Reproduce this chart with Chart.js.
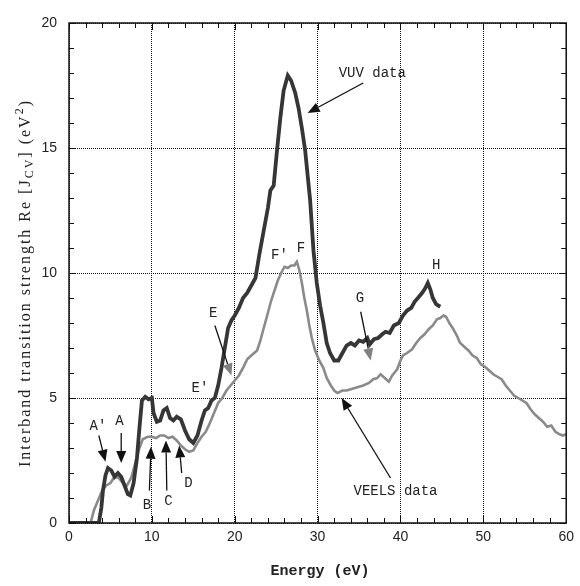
<!DOCTYPE html>
<html><head><meta charset="utf-8">
<script src="https://cdn.jsdelivr.net/npm/chart.js@4/dist/chart.umd.min.js"></script>
<style>html,body{margin:0;padding:0;background:#fff;}canvas{display:block;}</style>
</head><body>
<canvas id="c" width="580" height="586"></canvas>
<script>
// ---- data ----
const xTicks = [0, 10, 20, 30, 40, 50, 60];
const yTicks = [0, 5, 10, 15, 20];
const vuvEnergy = [0,3.6,3.9,4.1,4.4,4.7,5.1,5.5,5.9,6.3,6.7,7.1,7.4,7.8,8.2,8.5,8.8,9.2,9.6,10.0,10.2,10.6,11.0,11.4,11.8,12.2,12.6,13.0,13.5,14.0,14.5,15.0,15.5,16.0,16.4,16.8,17.2,17.6,18.0,18.4,18.8,19.2,19.6,20.0,20.5,21.0,21.5,22.0,22.5,23.0,23.5,24.0,24.3,24.7,25.1,25.5,25.9,26.4,26.8,27.3,27.7,28.1,28.5,28.8,29.1,29.5,29.9,30.3,30.7,31.1,31.5,32.0,32.5,33.0,33.5,34.0,34.5,35.0,35.5,36.0,36.3,36.8,37.3,37.8,38.2,38.7,39.2,39.8,40.3,40.8,41.3,41.7,42.1,42.6,43.0,43.3,43.6,43.9,44.3,44.8];
const vuvStrength = [0,0,0.6,1.3,1.9,2.2,2.1,1.85,2.0,1.85,1.5,1.15,1.1,1.6,2.6,3.8,4.9,5.05,4.95,5.0,4.4,4.05,4.1,4.5,4.6,4.2,4.1,4.25,4.15,3.7,3.35,3.2,3.5,4.1,4.5,4.6,4.9,5.0,5.5,6.2,7.0,7.8,8.1,8.3,8.6,9.0,9.2,9.5,9.8,10.8,11.7,12.6,13.3,13.5,14.9,16.2,17.3,17.9,17.7,17.2,16.6,15.8,14.9,13.9,12.9,10.9,9.6,8.7,8.0,7.2,6.8,6.5,6.5,6.8,7.1,7.2,7.1,7.3,7.25,7.4,7.15,7.35,7.4,7.55,7.65,7.6,7.9,8.0,8.3,8.5,8.6,8.85,9.0,9.2,9.4,9.6,9.35,9.0,8.75,8.65];
const veelsEnergy = [0,2.6,3.0,3.5,4.0,4.5,5.0,5.5,6.0,6.5,7.0,7.5,8.0,8.5,8.9,9.5,10.0,10.5,11.0,11.5,12.0,12.5,13.0,13.5,14.0,14.5,15.0,15.5,16.0,16.5,17.0,17.5,18.0,18.5,19.0,19.5,20.0,20.5,21.0,21.5,22.0,22.7,23.1,23.5,24.0,24.4,24.8,25.2,25.6,26.0,26.4,26.8,27.2,27.5,27.8,28.1,28.4,28.7,29.0,29.3,29.7,30.2,30.7,31.1,31.6,32.0,32.4,33.0,33.5,34.0,34.5,35.0,35.5,36.2,36.7,37.2,37.6,38.1,38.6,39.0,39.6,40.0,40.3,40.8,41.4,41.9,42.4,42.9,43.4,43.9,44.4,44.8,45.2,45.5,45.9,46.3,46.8,47.2,47.7,48.2,48.7,49.2,49.7,50.2,50.7,51.2,51.7,52.2,52.7,53.2,53.7,54.2,54.7,55.2,55.7,56.2,56.7,57.2,57.7,58.2,58.7,59.2,59.6,60];
const veelsStrength = [0,0,0.5,0.9,1.3,1.5,1.6,1.85,1.8,1.6,1.5,1.8,2.4,3.0,3.35,3.45,3.45,3.4,3.5,3.5,3.4,3.45,3.3,3.1,2.95,2.85,2.9,3.2,3.45,3.65,4.0,4.4,4.8,5.0,5.3,5.5,5.7,5.9,6.2,6.55,6.7,6.9,7.3,7.8,8.4,8.9,9.3,9.7,10.0,10.25,10.2,10.3,10.3,10.45,10.1,9.6,9.0,8.5,7.9,7.4,6.9,6.5,6.2,5.8,5.5,5.3,5.2,5.3,5.3,5.35,5.4,5.45,5.5,5.6,5.75,5.8,5.95,5.8,5.65,5.9,6.15,6.5,6.7,6.8,6.95,7.2,7.4,7.55,7.75,7.9,8.15,8.2,8.3,8.25,8.0,7.8,7.5,7.2,7.05,6.9,6.7,6.6,6.35,6.25,6.1,5.95,5.85,5.75,5.5,5.3,5.1,5.0,4.9,4.8,4.55,4.35,4.2,4.05,3.85,3.9,3.65,3.55,3.5,3.55];
// annotation labels: text, energy, strength
const labelText = ["VUV data","VEELS data","A\u2032","A","B","C","D","E\u2032","E","F\u2032","F","G","H"];
const labelX    = [36.6, 39.4, 3.5, 6.1, 9.4, 12.0, 14.4, 15.8, 17.4, 25.4, 28.0, 35.1, 44.3];
const labelY    = [18.0, 1.25, 3.85, 4.05, 0.7, 0.85, 1.6, 5.4, 8.4, 10.7, 11.0, 9.0, 10.3];
// arrows: tail (x,y) -> head (x,y), grey flag
const arrowX0 = [35.5, 38.8, 3.6, 6.3, 9.7, 11.8, 13.6, 17.6, 35.2];
const arrowY0 = [17.6, 1.8, 3.5, 3.6, 1.3, 1.3, 2.0, 7.9, 8.45];
const arrowX1 = [28.8, 32.9, 4.4, 6.3, 9.9, 11.7, 13.3, 19.6, 36.4];
const arrowY1 = [16.4, 5.0, 2.45, 2.4, 3.05, 3.3, 3.1, 5.9, 6.5];
const arrowGrey = [false,false,false,false,false,false,false,true,true];

const toPts = (xs, ys) => xs.map((x, i) => ({x: x, y: ys[i]}));

const framePlugin = {
  id: 'frame',
  afterDatasetsDraw(chart) {
    const {ctx, chartArea: a, scales: {x, y}} = chart;
    ctx.save();
    // minor / major inward ticks
    ctx.strokeStyle = '#111'; ctx.lineWidth = 1;
    for (let v = 0; v <= 60; v += 2) {
      const px = Math.round(x.getPixelForValue(v)) + 0.5;
      const L = (v % 10 === 0) ? 7 : 5;
      ctx.beginPath(); ctx.moveTo(px, a.bottom); ctx.lineTo(px, a.bottom - L);
      ctx.moveTo(px, a.top); ctx.lineTo(px, a.top + L); ctx.stroke();
    }
    for (let v = 0; v <= 20; v += 1) {
      const py = Math.round(y.getPixelForValue(v)) + 0.5;
      const L = (v % 5 === 0) ? 7 : 5;
      ctx.beginPath(); ctx.moveTo(a.left, py); ctx.lineTo(a.left + L, py);
      ctx.moveTo(a.right, py); ctx.lineTo(a.right - L, py); ctx.stroke();
    }
    ctx.lineWidth = 1.5; ctx.strokeStyle = '#111';
    ctx.strokeRect(a.left, a.top, a.right - a.left, a.bottom - a.top);
    // arrows
    for (let i = 0; i < arrowX0.length; i++) {
      const x0 = x.getPixelForValue(arrowX0[i]), y0 = y.getPixelForValue(arrowY0[i]);
      const x1 = x.getPixelForValue(arrowX1[i]), y1 = y.getPixelForValue(arrowY1[i]);
      const col = arrowGrey[i] ? '#808080' : '#111';
      const ang = Math.atan2(y1 - y0, x1 - x0);
      const hl = 12, hw = 5;
      const bx = x1 - hl * Math.cos(ang), by = y1 - hl * Math.sin(ang);
      ctx.strokeStyle = '#111'; ctx.lineWidth = 1.3;
      ctx.beginPath(); ctx.moveTo(x0, y0); ctx.lineTo(bx, by); ctx.stroke();
      ctx.fillStyle = col;
      ctx.beginPath(); ctx.moveTo(x1, y1);
      ctx.lineTo(bx + hw * Math.sin(ang), by - hw * Math.cos(ang));
      ctx.lineTo(bx - hw * Math.sin(ang), by + hw * Math.cos(ang));
      ctx.closePath(); ctx.fill();
    }
    // labels
    ctx.fillStyle = '#222'; ctx.textAlign = 'center'; ctx.textBaseline = 'middle';
    for (let i = 0; i < labelText.length; i++) {
      ctx.font = '14px "Liberation Mono", monospace';
      ctx.fillText(labelText[i], x.getPixelForValue(labelX[i]), y.getPixelForValue(labelY[i]));
    }
    ctx.restore();
  },
  afterDraw(chart) {
    const {ctx} = chart;
    ctx.save();
    // x title
    ctx.fillStyle = '#222'; ctx.textAlign = 'center'; ctx.textBaseline = 'middle';
    ctx.font = 'bold 15px "Liberation Mono", monospace';
    ctx.fillText('Energy (eV)', 320, 571);
    // y title with sub/superscript
    ctx.translate(26, 283); ctx.rotate(-Math.PI / 2);
    ctx.letterSpacing = '2px';
    const parts = [
      ['Interband transition strength Re [J', 16, 0],
      ['CV', 12, 4],
      ['] (eV', 16, 0],
      ['2', 12, -6],
      [')', 16, 0]
    ];
    let total = 0;
    parts.forEach(p => { ctx.font = p[1] + 'px "Liberation Serif", serif'; total += ctx.measureText(p[0]).width; });
    let cx = -total / 2;
    ctx.textAlign = 'left';
    parts.forEach(p => {
      ctx.font = p[1] + 'px "Liberation Serif", serif';
      ctx.fillText(p[0], cx, p[2]);
      cx += ctx.measureText(p[0]).width;
    });
    ctx.restore();
  }
};

new Chart(document.getElementById('c'), {
  type: 'line',
  data: {
    datasets: [
      {label: 'VUV data', data: toPts(vuvEnergy, vuvStrength), borderColor: '#363636', borderWidth: 3.8, pointRadius: 0, tension: 0, fill: false},
      {label: 'VEELS data', data: toPts(veelsEnergy, veelsStrength), borderColor: '#8a8a8a', borderWidth: 2.6, pointRadius: 0, tension: 0, fill: false}
    ]
  },
  options: {
    responsive: false, animation: false,
    layout: {padding: {top: 23, right: 7, left: 0, bottom: 0}},
    plugins: {legend: {display: false}, tooltip: {enabled: false}},
    scales: {
      x: {
        type: 'linear', min: 0, max: 60,
        afterBuildTicks: s => { s.ticks = xTicks.map(v => ({value: v})); },
        afterFit: s => { s.height = 63; },
        ticks: {color: '#222', font: {family: '"Liberation Sans", Arial, sans-serif', size: 14}, padding: 6, maxRotation: 0},
        grid: {color: '#111', lineWidth: 1, drawTicks: false, tickLength: 0},
        border: {display: false, dash: [1, 1]}
      },
      y: {
        type: 'linear', min: 0, max: 20,
        afterBuildTicks: s => { s.ticks = yTicks.map(v => ({value: v})); },
        afterFit: s => { s.width = 69; },
        ticks: {color: '#222', font: {family: '"Liberation Sans", Arial, sans-serif', size: 14}, padding: 12},
        grid: {color: '#111', lineWidth: 1, drawTicks: false, tickLength: 0},
        border: {display: false, dash: [1, 1]}
      }
    }
  },
  plugins: [framePlugin]
});
</script>
</body></html>
